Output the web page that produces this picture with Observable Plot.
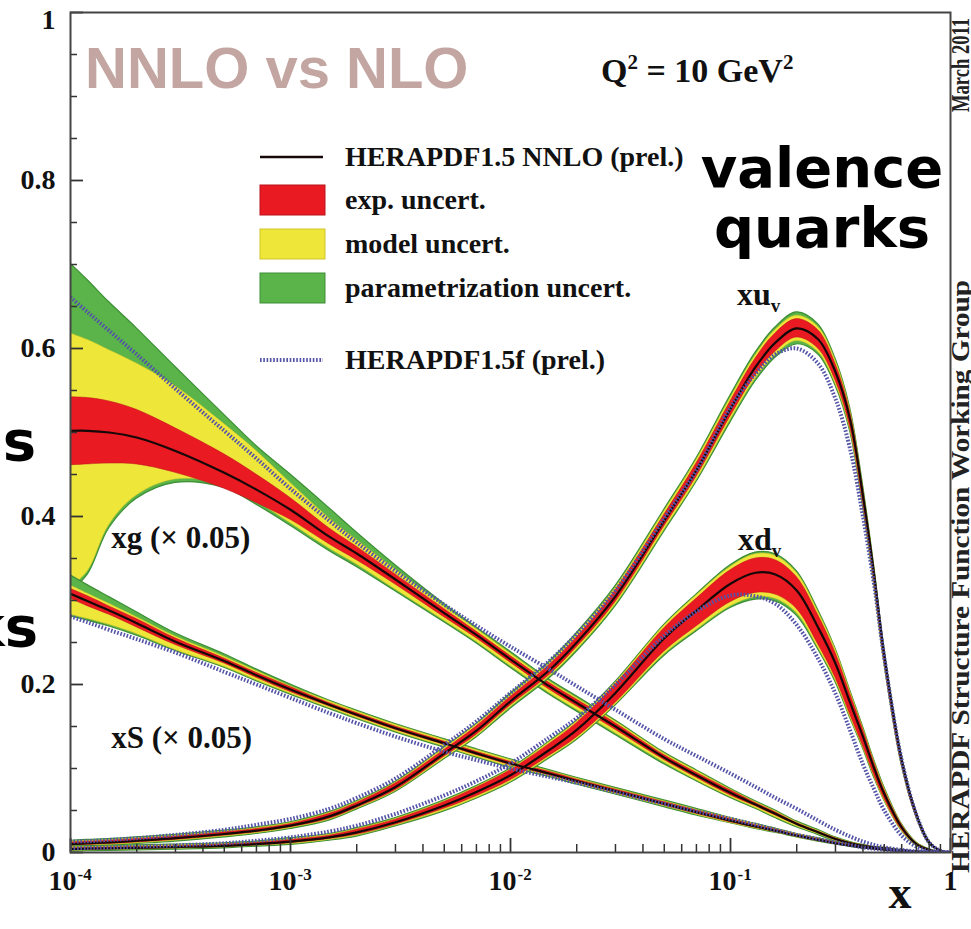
<!DOCTYPE html>
<html><head><meta charset="utf-8">
<script src="https://cdn.jsdelivr.net/npm/d3@7"></script>
<script src="https://cdn.jsdelivr.net/npm/@observablehq/plot@0.6"></script>
<style>html,body{margin:0;padding:0;background:#fff;} svg{display:block;}</style>
</head><body><div id="chart"></div>
<script>
// ---- x grid (momentum fraction) ----
const xGrid = [1e-4,1.2e-4,1.5e-4,2e-4,3e-4,5e-4,7e-4,1e-3,1.5e-3,2e-3,3e-3,5e-3,7e-3,0.01,0.015,0.02,0.03,0.05,0.07,0.1,0.13,0.16,0.2,0.25,0.3,0.35,0.4,0.45,0.5,0.6,0.7,0.8,0.9,1];

// ---- xg (x 0.05) ----
const xgC     = [0.502,0.502,0.500,0.494,0.478,0.452,0.432,0.408,0.376,0.356,0.325,0.285,0.259,0.230,0.198,0.178,0.150,0.113,0.092,0.071,0.057,0.046,0.034,0.024,0.016,0.011,0.008,0.006,0.005,0.0025,0.0012,0.0005,0.0001,0];
const xgExpHi = [0.542,0.541,0.537,0.527,0.505,0.474,0.450,0.422,0.386,0.364,0.331,0.290,0.263,0.234,0.202,0.182,0.154,0.116,0.095,0.074,0.059,0.048,0.035,0.025,0.017,0.0115,0.0083,0.0062,0.0052,0.0026,0.0012,0.0005,0.0001,0];
const xgExpLo = [0.461,0.462,0.463,0.462,0.452,0.433,0.416,0.396,0.367,0.348,0.319,0.280,0.255,0.226,0.194,0.174,0.146,0.110,0.089,0.068,0.055,0.044,0.033,0.023,0.015,0.0105,0.0077,0.0058,0.0048,0.0024,0.0011,0.0005,0.0001,0];
const xgModHi = [0.618,0.610,0.598,0.582,0.555,0.510,0.478,0.440,0.398,0.372,0.337,0.293,0.266,0.237,0.204,0.184,0.156,0.118,0.097,0.075,0.060,0.049,0.036,0.026,0.0175,0.012,0.0087,0.0065,0.0055,0.0028,0.0013,0.0006,0.0001,0];
const xgModLo = [0.315,0.335,0.390,0.425,0.444,0.438,0.418,0.392,0.362,0.343,0.313,0.276,0.251,0.222,0.190,0.170,0.142,0.107,0.086,0.066,0.053,0.042,0.031,0.022,0.014,0.010,0.0073,0.0055,0.0045,0.0022,0.001,0.0004,0.0001,0];
const xgParHi = [0.701,0.681,0.655,0.624,0.578,0.521,0.484,0.450,0.410,0.381,0.342,0.296,0.268,0.239,0.206,0.186,0.157,0.119,0.098,0.076,0.061,0.050,0.037,0.027,0.018,0.0125,0.009,0.0067,0.0057,0.003,0.0014,0.0006,0.0001,0];
const xgParLo = [0.310,0.331,0.386,0.421,0.440,0.434,0.414,0.389,0.359,0.340,0.311,0.274,0.249,0.220,0.188,0.168,0.140,0.105,0.085,0.065,0.052,0.041,0.030,0.021,0.013,0.0095,0.007,0.0052,0.0043,0.0021,0.001,0.0004,0.0001,0];
const xgNLO   = [0.661,0.643,0.621,0.593,0.552,0.502,0.469,0.433,0.395,0.369,0.335,0.295,0.270,0.245,0.218,0.198,0.170,0.135,0.115,0.094,0.078,0.065,0.052,0.038,0.027,0.019,0.013,0.009,0.006,0.003,0.0012,0.0004,0.0001,0];

// ---- xS (x 0.05) ----
const sC      = [0.308,0.299,0.288,0.273,0.251,0.228,0.211,0.194,0.176,0.164,0.148,0.130,0.118,0.106,0.094,0.085,0.073,0.058,0.048,0.038,0.031,0.026,0.020,0.015,0.011,0.008,0.006,0.0045,0.0033,0.0016,0.0007,0.0003,0.0001,0];
const sExp    = [0.006,0.006,0.005,0.005,0.004,0.003,0.003,0.003,0.002,0.002,0.002,0.002,0.002,0.002,0.002,0.002,0.002,0.002,0.002,0.002,0.0015,0.0015,0.001,0.001,0.001,0.0008,0.0006,0.0005,0.0004,0.0002,0.0001,0,0,0];
const sModUp  = [0.010,0.009,0.008,0.007,0.006,0.005,0.005,0.004,0.004,0.004,0.004,0.004,0.004,0.004,0.003,0.003,0.003,0.003,0.003,0.003,0.0025,0.002,0.002,0.0015,0.0012,0.001,0.0008,0.0006,0.0005,0.0003,0.0001,0,0,0];
const sModDn  = [0.025,0.021,0.017,0.013,0.010,0.007,0.006,0.005,0.004,0.004,0.004,0.004,0.004,0.004,0.003,0.003,0.003,0.003,0.003,0.003,0.0025,0.002,0.002,0.0015,0.0012,0.001,0.0008,0.0006,0.0005,0.0003,0.0001,0,0,0];
const sParUp  = [0.022,0.019,0.016,0.013,0.010,0.008,0.007,0.006,0.005,0.005,0.005,0.005,0.005,0.005,0.004,0.004,0.004,0.004,0.004,0.003,0.003,0.0025,0.002,0.002,0.0015,0.0012,0.001,0.0008,0.0006,0.0004,0.0002,0.0001,0,0];
const sParDn  = [0.027,0.023,0.019,0.015,0.011,0.008,0.007,0.006,0.005,0.005,0.005,0.005,0.005,0.005,0.004,0.004,0.004,0.004,0.004,0.003,0.003,0.0025,0.002,0.002,0.0015,0.0012,0.001,0.0008,0.0006,0.0004,0.0002,0.0001,0,0];
const sNLO    = [0.281,0.274,0.265,0.254,0.238,0.215,0.200,0.184,0.166,0.154,0.138,0.120,0.110,0.100,0.090,0.083,0.072,0.058,0.049,0.040,0.033,0.027,0.021,0.016,0.012,0.009,0.006,0.0045,0.0033,0.0016,0.0007,0.0003,0.0001,0];

// ---- xu_v ----
const uvC     = [0.010,0.011,0.012,0.014,0.017,0.022,0.026,0.032,0.043,0.056,0.078,0.118,0.145,0.180,0.217,0.250,0.305,0.395,0.455,0.528,0.578,0.607,0.624,0.611,0.572,0.515,0.425,0.330,0.235,0.110,0.045,0.012,0.002,0];
const uvExp   = [0.002,0.002,0.002,0.002,0.002,0.002,0.002,0.002,0.003,0.003,0.004,0.004,0.005,0.005,0.006,0.006,0.007,0.007,0.008,0.009,0.010,0.011,0.011,0.011,0.010,0.009,0.008,0.007,0.006,0.004,0.002,0.001,0,0];
const uvMod   = [0.003,0.003,0.003,0.003,0.003,0.003,0.003,0.003,0.004,0.004,0.005,0.006,0.007,0.007,0.008,0.009,0.010,0.011,0.012,0.013,0.014,0.015,0.015,0.015,0.014,0.012,0.011,0.010,0.008,0.005,0.003,0.001,0,0];
const uvPar   = [0.004,0.004,0.004,0.004,0.004,0.004,0.004,0.004,0.005,0.005,0.006,0.007,0.008,0.009,0.010,0.011,0.012,0.013,0.014,0.016,0.017,0.018,0.019,0.018,0.016,0.014,0.013,0.011,0.009,0.006,0.003,0.002,0,0];
const uvNLO   = [0.013,0.0135,0.015,0.017,0.021,0.027,0.033,0.040,0.052,0.065,0.088,0.128,0.156,0.190,0.228,0.260,0.312,0.398,0.455,0.530,0.570,0.593,0.600,0.582,0.540,0.480,0.400,0.318,0.232,0.110,0.045,0.012,0.002,0];

// ---- xd_v ----
const dvC     = [0.004,0.0045,0.005,0.0055,0.0065,0.008,0.010,0.013,0.018,0.024,0.036,0.056,0.072,0.092,0.122,0.146,0.190,0.255,0.288,0.320,0.333,0.331,0.312,0.268,0.225,0.178,0.138,0.100,0.070,0.030,0.010,0.003,0.0005,0];
const dvExpUp = [0.001,0.001,0.001,0.001,0.001,0.0015,0.0015,0.002,0.002,0.003,0.003,0.004,0.005,0.006,0.007,0.008,0.010,0.012,0.014,0.016,0.017,0.017,0.016,0.015,0.013,0.011,0.009,0.007,0.005,0.003,0.001,0.0005,0,0];
const dvExpDn = [0.001,0.001,0.001,0.001,0.001,0.0015,0.0015,0.002,0.002,0.003,0.003,0.004,0.005,0.006,0.007,0.009,0.012,0.016,0.019,0.022,0.024,0.024,0.022,0.020,0.017,0.014,0.011,0.008,0.006,0.003,0.001,0.0005,0,0];
const dvModUp = [0.002,0.002,0.002,0.002,0.002,0.002,0.002,0.003,0.003,0.004,0.004,0.005,0.006,0.007,0.009,0.010,0.012,0.015,0.018,0.020,0.022,0.022,0.021,0.019,0.017,0.014,0.011,0.009,0.007,0.004,0.002,0.0007,0,0];
const dvModDn = [0.002,0.002,0.002,0.002,0.002,0.002,0.002,0.003,0.003,0.004,0.004,0.006,0.007,0.008,0.009,0.011,0.014,0.019,0.023,0.027,0.029,0.029,0.027,0.024,0.020,0.017,0.013,0.010,0.008,0.004,0.002,0.0007,0,0];
const dvParUp = [0.003,0.003,0.003,0.003,0.003,0.003,0.003,0.004,0.004,0.005,0.005,0.006,0.007,0.008,0.010,0.011,0.013,0.016,0.019,0.022,0.024,0.024,0.023,0.021,0.018,0.015,0.012,0.010,0.008,0.004,0.002,0.001,0,0];
const dvParDn = [0.003,0.003,0.003,0.003,0.003,0.003,0.003,0.004,0.004,0.005,0.005,0.007,0.008,0.009,0.010,0.012,0.015,0.021,0.025,0.029,0.032,0.032,0.030,0.026,0.022,0.018,0.014,0.011,0.008,0.004,0.002,0.001,0,0];
const dvNLO   = [0.005,0.0055,0.006,0.007,0.0085,0.011,0.014,0.018,0.025,0.032,0.046,0.068,0.085,0.106,0.137,0.160,0.200,0.258,0.287,0.306,0.305,0.296,0.271,0.231,0.189,0.145,0.105,0.075,0.050,0.020,0.007,0.0015,0.0002,0];

// ---- axes ----
const yMajor = [0, 0.2, 0.4, 0.6, 0.8, 1];
const yMajorLabels = ["0", "0.2", "0.4", "0.6", "0.8", "1"];
const yMinor = [0.05,0.1,0.15,0.25,0.3,0.35,0.45,0.5,0.55,0.65,0.7,0.75,0.85,0.9,0.95];
const xMajor = [1e-4, 1e-3, 1e-2, 1e-1];
const xMajorExp = ["-4", "-3", "-2", "-1"];
const xMinor = [2e-4,3e-4,4e-4,5e-4,6e-4,7e-4,8e-4,9e-4,2e-3,3e-3,4e-3,5e-3,6e-3,7e-3,8e-3,9e-3,0.02,0.03,0.04,0.05,0.06,0.07,0.08,0.09,0.2,0.3,0.4,0.5,0.6,0.7,0.8,0.9];

// ---- legend & labels ----
const legendLabels = ["HERAPDF1.5 NNLO (prel.)", "exp. uncert.", "model uncert.", "parametrization uncert.", "HERAPDF1.5f (prel.)"];
const curveLabels = [
  {main: "xg (\u00d7 0.05)", sub: "", x: 1.54e-4, y: 0.362},
  {main: "xS (\u00d7 0.05)", sub: "", x: 1.54e-4, y: 0.124},
  {main: "xu", sub: "v", x: 0.1076, y: 0.651},
  {main: "xd", sub: "v", x: 0.1088, y: 0.3595}
];

// ---- styles ----
const GREEN = "#5bb449", GREEN_D = "#3d8f36";
const YELLOW = "#efe63a", YELLOW_D = "#cfc52a";
const RED = "#e91a22", RED_D = "#b8141a";
const CENTER = "#160808";
const BLUE = "#5353a8";
const DASH = "1.6,1.7";
const SERIF = "'Liberation Serif','Times New Roman',serif";
const W = 971, H = 929, ML = 70, MR = 21, MT = 12, MB = 77;
const FW = W - ML - MR, FH = H - MT - MB;

const sub = (a, b) => a.map((v, i) => Math.max(0, v - b[i]));
const add = (a, b) => a.map((v, i) => v + b[i]);
const band = (lo, hi) => xGrid.map((x, i) => ({x, lo: lo[i], hi: hi[i]}));
const line = (ys) => xGrid.map((x, i) => ({x, y: ys[i]}));

const pdfs = [
  {c: xgC, par: [xgParLo, xgParHi], mod: [xgModLo, xgModHi], exp: [xgExpLo, xgExpHi], nlo: xgNLO},
  {c: sC, par: [sub(sC, sParDn), add(sC, sParUp)], mod: [sub(sC, sModDn), add(sC, sModUp)], exp: [sub(sC, sExp), add(sC, sExp)], nlo: sNLO},
  {c: uvC, par: [sub(uvC, uvPar), add(uvC, uvPar)], mod: [sub(uvC, uvMod), add(uvC, uvMod)], exp: [sub(uvC, uvExp), add(uvC, uvExp)], nlo: uvNLO},
  {c: dvC, par: [sub(dvC, dvParDn), add(dvC, dvParUp)], mod: [sub(dvC, dvModDn), add(dvC, dvModUp)], exp: [sub(dvC, dvExpDn), add(dvC, dvExpUp)], nlo: dvNLO}
];

const curve = "catmull-rom";
const marks = [];
for (const p of pdfs) {
  marks.push(Plot.areaY(band(...p.par), {x: "x", y1: "lo", y2: "hi", fill: GREEN, stroke: GREEN_D, strokeWidth: 1.2, curve, clip: true}));
  marks.push(Plot.areaY(band(...p.mod), {x: "x", y1: "lo", y2: "hi", fill: YELLOW, stroke: YELLOW_D, strokeWidth: 0.5, curve, clip: true}));
  marks.push(Plot.areaY(band(...p.exp), {x: "x", y1: "lo", y2: "hi", fill: RED, stroke: RED_D, strokeWidth: 0.5, curve, clip: true}));
}
for (const p of pdfs) {
  marks.push(Plot.lineY(line(p.c), {x: "x", y: "y", stroke: CENTER, strokeWidth: 2.2, curve, clip: true}));
}
for (const p of pdfs) {
  marks.push(Plot.lineY(line(p.nlo), {x: "x", y: "y", stroke: BLUE, strokeWidth: 4, strokeDasharray: DASH, strokeLinecap: "butt", curve, clip: true}));
}
// ticks (inward)
marks.push(Plot.tickY(yMajor, {y: d => d, stroke: "#333", strokeWidth: 1.8, insetRight: FW - 13}));
marks.push(Plot.tickY(yMinor, {y: d => d, stroke: "#333", strokeWidth: 1.5, insetRight: FW - 7}));
marks.push(Plot.tickX(xMajor.concat([1]), {x: d => d, stroke: "#333", strokeWidth: 1.8, insetTop: FH - 14}));
marks.push(Plot.tickX(xMinor, {x: d => d, stroke: "#333", strokeWidth: 1.5, insetTop: FH - 8}));
marks.push(Plot.frame({stroke: "#444", strokeWidth: 2}));
// tick labels
const yLab = {frameAnchor: "left", dx: -15, textAnchor: "end", fontSize: 28, fontWeight: "bold", fontFamily: SERIF, fill: "#111"};
marks.push(Plot.text(yMajor.slice(0, 5), {y: d => d, text: (d, i) => yMajorLabels[i], ...yLab}));
marks.push(Plot.text(yMajor.slice(5), {y: d => d, text: () => yMajorLabels[5], dy: 8, ...yLab}));
marks.push(Plot.text(xMajor, {x: d => d, text: () => "10", frameAnchor: "bottom", dy: 37, dx: 6, textAnchor: "end", fontSize: 28, fontWeight: "bold", fontFamily: SERIF, fill: "#111"}));
marks.push(Plot.text(xMajor, {x: d => d, text: (d, i) => xMajorExp[i], frameAnchor: "bottom", dy: 27, dx: 7, textAnchor: "start", fontSize: 17, fontWeight: "bold", fontFamily: SERIF, fill: "#111"}));
marks.push(Plot.text([1], {x: d => d, text: () => "1", frameAnchor: "bottom", dy: 37, fontSize: 28, fontWeight: "bold", fontFamily: SERIF, fill: "#111"}));
marks.push(Plot.text(["x"], {text: d => d, frameAnchor: "bottom-right", dx: -39, dy: 55, fontSize: 46, fontWeight: "bold", fontFamily: SERIF, fill: "#111"}));

const chart = Plot.plot({
  width: W, height: H,
  marginLeft: ML, marginRight: MR, marginTop: MT, marginBottom: MB,
  x: {type: "log", domain: [1e-4, 1], axis: null},
  y: {domain: [0, 1], axis: null},
  style: {background: "#fff", overflow: "visible"},
  marks
});
document.getElementById("chart").appendChild(chart);

// ---- annotations ----
const sx = chart.scale("x"), sy = chart.scale("y");
const svg = d3.select(chart);
const g = svg.append("g").attr("text-anchor", "start");

g.append("text").attr("x", 85).attr("y", 88).text("NNLO vs NLO")
  .attr("font-family", "'Liberation Sans',Arial,sans-serif").attr("font-weight", "bold")
  .attr("font-size", 58).attr("fill", "#c3a6a1");

const q = g.append("text").attr("x", 601).attr("y", 82)
  .attr("font-family", SERIF).attr("font-weight", "bold").attr("font-size", 34).attr("fill", "#111");
q.append("tspan").text("Q");
q.append("tspan").text("2").attr("font-size", 21).attr("dy", -13);
q.append("tspan").text(" = 10 GeV").attr("dy", 13);
q.append("tspan").text("2").attr("font-size", 21).attr("dy", -13);

const vq = g.append("text").attr("font-family", "'DejaVu Sans',sans-serif").attr("font-weight", "bold")
  .attr("font-size", 56).attr("fill", "#000").attr("text-anchor", "middle");
vq.append("tspan").attr("x", 822).attr("y", 187).text("valence");
vq.append("tspan").attr("x", 822).attr("y", 247).text("quarks");

g.append("text").attr("x", 36).attr("y", 460).attr("text-anchor", "end")
  .attr("font-family", "'DejaVu Sans',sans-serif").attr("font-weight", "bold").attr("font-size", 56)
  .text("gluons");
g.append("text").attr("x", 38).attr("y", 646).attr("text-anchor", "end")
  .attr("font-family", "'DejaVu Sans',sans-serif").attr("font-weight", "bold").attr("font-size", 56)
  .text("quarks");

// legend
const LX0 = 260, LX1 = 325, TX = 345;
const rowY = [157, 200, 244, 288, 360];
g.append("line").attr("x1", LX0).attr("x2", LX1 - 2).attr("y1", rowY[0]).attr("y2", rowY[0])
  .attr("stroke", CENTER).attr("stroke-width", 2.5);
[[RED, RED_D], [YELLOW, YELLOW_D], [GREEN, GREEN_D]].forEach(([f, s], i) => {
  g.append("rect").attr("x", LX0).attr("y", rowY[i + 1] - 15).attr("width", LX1 - LX0).attr("height", 30)
    .attr("fill", f).attr("stroke", s).attr("stroke-width", 1);
});
g.append("line").attr("x1", LX0).attr("x2", LX1 - 2).attr("y1", rowY[4]).attr("y2", rowY[4])
  .attr("stroke", BLUE).attr("stroke-width", 4).attr("stroke-dasharray", DASH);
legendLabels.forEach((t, i) => {
  g.append("text").attr("x", TX).attr("y", rowY[i] + 9).text(t)
    .attr("font-family", SERIF).attr("font-weight", "bold").attr("font-size", 28).attr("fill", "#111");
});

// curve labels
curveLabels.forEach(l => {
  const t = g.append("text").attr("x", sx.apply(l.x)).attr("y", sy.apply(l.y))
    .attr("font-family", SERIF).attr("font-weight", "bold").attr("font-size", l.sub ? 32 : 31).attr("fill", "#111");
  t.append("tspan").text(l.main);
  if (l.sub) t.append("tspan").text(l.sub).attr("font-size", 19).attr("dy", 7);
});

// right-side vertical credit
const side = g.append("g").attr("font-family", SERIF).attr("font-weight", "bold").attr("font-size", 26).attr("fill", "#222");
side.append("text").attr("transform", "translate(969,873) rotate(-90)")
  .attr("textLength", 593).attr("lengthAdjust", "spacingAndGlyphs")
  .text("HERAPDF Structure Function Working Group");
side.append("text").attr("transform", "translate(969,112) rotate(-90)")
  .attr("textLength", 94).attr("lengthAdjust", "spacingAndGlyphs")
  .text("March 2011");
</script>
</body></html>
